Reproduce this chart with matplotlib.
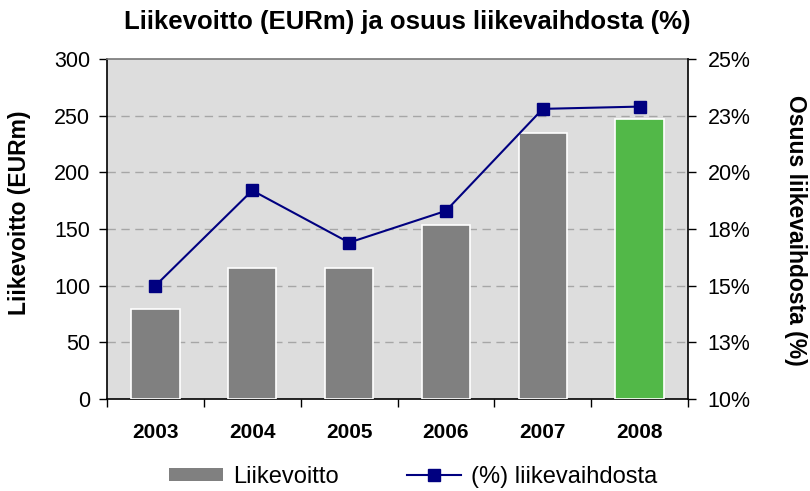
import matplotlib
matplotlib.use("Agg")
import matplotlib.pyplot as plt
from matplotlib.patches import Patch
from matplotlib.lines import Line2D
import numpy as np

plt.rcParams['font.family'] = ['Liberation Sans', 'DejaVu Sans']

years = ["2003", "2004", "2005", "2006", "2007", "2008"]
profit = [79, 116, 116, 153.5, 234.5, 247]
share = [15.0, 19.2, 16.9, 18.3, 22.8, 22.9]
left_ticks = [0, 50, 100, 150, 200, 250, 300]
right_ticks = [10, 12.5, 15, 17.5, 20, 22.5, 25]
right_labels = ["10%", "13%", "15%", "18%", "20%", "23%", "25%"]

bar_colors = ["#808080"] * 5 + ["#52b848"]
W, H = 810, 491

fig = plt.figure(figsize=(W/100, H/100), dpi=100)
ax = fig.add_axes([107/W, 1-399/H, (688-107)/W, (399-59)/H])
ax.set_facecolor("#dddddd")
x = np.arange(len(years))
ax.bar(x, profit, width=0.5, color=bar_colors, edgecolor="white", linewidth=1.2, zorder=3)
ax.set_xlim(-0.5, len(years)-0.5)
ax.set_ylim(0, 300)
ax.set_yticks(left_ticks)
ax.set_yticklabels([str(t) for t in left_ticks], fontsize=15.5)
for t in left_ticks[1:-1]:
    ax.axhline(t, color="#a6a6a6", linestyle=(0, (6, 4)), linewidth=1, zorder=1)
ax.set_xticks(x)
ax.set_xticklabels(years, fontsize=15, fontweight="bold")
ax.set_xticks(np.arange(-0.5, len(years)), minor=True)
ax.tick_params(axis='x', which='major', length=0, pad=17)
ax.tick_params(axis='x', which='minor', length=6, direction='out', color='black', width=1)
ax.tick_params(axis='y', length=6, direction='out', width=1, pad=6)
for s in ["left", "bottom"]:
    ax.spines[s].set_color("black")
    ax.spines[s].set_linewidth(1.2)
ax.spines["top"].set_color("#777777")
ax.spines["top"].set_linewidth(1.2)
ax.spines["right"].set_visible(False)

ax2 = ax.twinx()
ax2.plot(x, share, color="#000080", linewidth=1.5, marker="s", markersize=9, zorder=4)
ax2.set_ylim(10, 25)
ax2.set_yticks(right_ticks)
ax2.set_yticklabels(right_labels, fontsize=15.5)
ax2.tick_params(axis='y', length=6, direction='out', width=1, pad=8)
for s in ["left", "bottom", "top"]:
    ax2.spines[s].set_visible(False)
ax2.spines["right"].set_color("black")
ax2.spines["right"].set_linewidth(1.2)

fig.text(407/W, 1-22/H, "Liikevoitto (EURm) ja osuus liikevaihdosta (%)", fontsize=18.5,
         fontweight="bold", ha="center", va="center")
fig.text(20/W, 1-213/H, "Liikevoitto (EURm)", fontsize=16.5, fontweight="bold",
         rotation=90, ha="center", va="center")
fig.text(795/W, 1-230/H, "Osuus liikevaihdosta (%)", fontsize=16.5, fontweight="bold",
         rotation=-90, ha="center", va="center")

handles = [Patch(facecolor="#808080", edgecolor="none"),
           Line2D([0], [0], color="#000080", marker="s", markersize=8, linewidth=1.5)]
fig.legend(handles, ["Liikevoitto", "(%) liikevaihdosta"], loc="center", bbox_to_anchor=(0.51, 1-477/H),
           ncol=2, frameon=False, fontsize=17, handlelength=2.3, handleheight=0.5,
           columnspacing=2.9, handletextpad=0.4)

fig.savefig("out.png", dpi=100)
